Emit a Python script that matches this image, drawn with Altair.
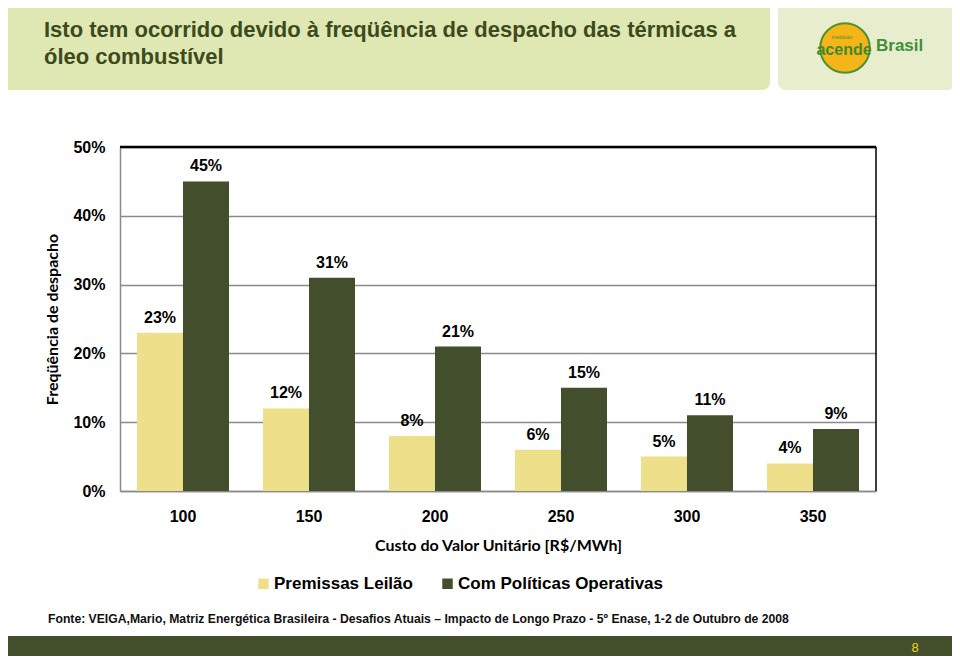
import altair as alt
import pandas as pd

categories = ["100", "150", "200", "250", "300", "350"]
series_names = ["Premissas Leilão", "Com Políticas Operativas"]
premissas = [23, 12, 8, 6, 5, 4]
politicas = [45, 31, 21, 15, 11, 9]
colors = ["#EEE08A", "#434F2C"]
y_ticks = [0, 10, 20, 30, 40, 50]

title_line1 = "Isto tem ocorrido devido à freqüência de despacho das térmicas a"
title_line2 = "óleo combustível"
source_text = ("Fonte: VEIGA,Mario, Matriz Energética Brasileira - Desafios Atuais – Impacto de Longo Prazo "
               "- 5º Enase, 1-2 de Outubro de 2008")
page_number = "8"

rows = []
for c, a, b in zip(categories, premissas, politicas):
    rows.append({"custo": c, "serie": series_names[0], "valor": a})
    rows.append({"custo": c, "serie": series_names[1], "valor": b})
df = pd.DataFrame(rows)
df["label"] = df["valor"].astype(str) + "%"

W, H = 756, 344
one = pd.DataFrame({"k": [0]})


def text_layer(txt, x, y, **kw):
    return alt.Chart(pd.DataFrame({"t": [txt]})).mark_text(**kw).encode(
        x=alt.value(x), y=alt.value(y), text="t:N")


x_enc = alt.X("custo:N", sort=categories,
              scale=alt.Scale(paddingInner=0.27, paddingOuter=0.135),
              axis=alt.Axis(title="Custo do Valor Unitário [R$/MWh]", labelAngle=0,
                            labelPadding=17, titleY=54, titleBaseline="middle",
                            titleFont="Lato", titleFontSize=16, titleFontWeight="bold",
                            domainColor="#8A8A8A", domainWidth=1.5, ticks=False))
y_enc = alt.Y("valor:Q", scale=alt.Scale(domain=[0, 50], nice=False),
              axis=alt.Axis(values=y_ticks, labelExpr="datum.value + '%'", title="Freqüência de despacho",
                            labelPadding=15, ticks=False, domainColor="#8A8A8A", domainWidth=1.5,
                            grid=True, gridColor="#8A8A8A", gridWidth=1.3,
                            titleX=-68, titleY=172, titleAngle=-90, titleBaseline="middle",
                            titleFont="Lato", titleFontSize=16, titleFontWeight="bold"))
xoff = alt.XOffset("serie:N", sort=series_names, scale=alt.Scale(paddingInner=0))
color = alt.Color("serie:N", sort=series_names,
                  scale=alt.Scale(domain=series_names, range=colors),
                  legend=alt.Legend(title=None, orient="none", legendX=135, legendY=428,
                                    direction="horizontal", symbolType="square", symbolSize=110,
                                    symbolStrokeWidth=0, labelFont="Liberation Sans",
                                    labelFontWeight="bold", labelFontSize=17, labelOffset=2,
                                    labelLimit=0, columnPadding=26, padding=0,
                                    labelColor="#000000"))

# slide decorations
header = alt.Chart(one).mark_rect(color="#DFE7B3", cornerRadius=8).encode(
    x=alt.value(-125), x2=alt.value(650), y=alt.value(-155), y2=alt.value(-57))
logo_panel = alt.Chart(one).mark_rect(color="#E7EDCD", cornerRadius=8).encode(
    x=alt.value(658), x2=alt.value(835), y=alt.value(-155), y2=alt.value(-57))
footer_bar = alt.Chart(one).mark_rect(color="#434E2B").encode(
    x=alt.value(-125), x2=alt.value(845), y=alt.value(489), y2=alt.value(530))

title_kw = dict(align="left", baseline="alphabetic", font="Liberation Sans", fontSize=22,
                fontWeight="bold", color="#3C4A1C")
title1 = text_layer(title_line1, -76, -110, **title_kw)
title2 = text_layer(title_line2, -76, -83, **title_kw)

logo_circle = alt.Chart(one).mark_circle(size=2460, opacity=1, fill="#F5B519", stroke="#4E8F2E",
                                         strokeWidth=2).encode(x=alt.value(725), y=alt.value(-99))
logo_inst = text_layer("instituto", 722, -110, font="Liberation Sans", fontSize=6, color="#4E8F2E",
                       align="center", baseline="middle")
logo_acende = text_layer("acende", 724, -97, font="Liberation Sans", fontSize=16, fontWeight="bold",
                         color="#3F8A30", align="center", baseline="middle")
logo_brasil = text_layer("Brasil", 756, -101, font="Liberation Sans", fontSize=17, fontWeight="bold",
                         color="#3F8F3C", align="left", baseline="middle")

source = text_layer(source_text, -72, 472, font="Liberation Sans", fontSize=12.2, fontWeight="bold",
                    color="#111111", align="left", baseline="middle")
pagenum = text_layer(page_number, 795, 501, font="Liberation Sans", fontSize=13, color="#F2D21A",
                     align="center", baseline="middle")

bars = alt.Chart(df).mark_bar(size=46).encode(x=x_enc, xOffset=xoff, y=y_enc, color=color)
labels = alt.Chart(df).mark_text(baseline="bottom", dy=-7, font="Liberation Sans", fontSize=16,
                                 fontWeight="bold", color="#000000").encode(
    x=alt.X("custo:N", sort=categories), xOffset=alt.XOffset("serie:N", sort=series_names),
    y="valor:Q", text="label:N")

top_border = alt.Chart(one).mark_rule(color="#000000", strokeWidth=2.5).encode(
    x=alt.value(0), x2=alt.value(W), y=alt.value(0))
right_border = alt.Chart(one).mark_rule(color="#000000", strokeWidth=1.5).encode(
    x=alt.value(W), y=alt.value(0), y2=alt.value(H))

chart = alt.layer(
    header, logo_panel, logo_circle, logo_inst, logo_acende, logo_brasil, title1, title2,
    footer_bar, source, pagenum,
    bars, labels, top_border, right_border
).properties(
    width=W, height=H,
    autosize=alt.AutoSizeParams(type="none"),
    padding={"left": 112, "top": 139, "right": 76, "bottom": 165},
    background="#FFFFFF",
).configure_view(stroke=None).configure_axis(
    labelFont="Liberation Sans", labelFontSize=16, labelFontWeight="bold", labelColor="#000000",
    titleColor="#000000"
)

chart.save("out.html", embed_options={"renderer": "svg", "actions": False})
